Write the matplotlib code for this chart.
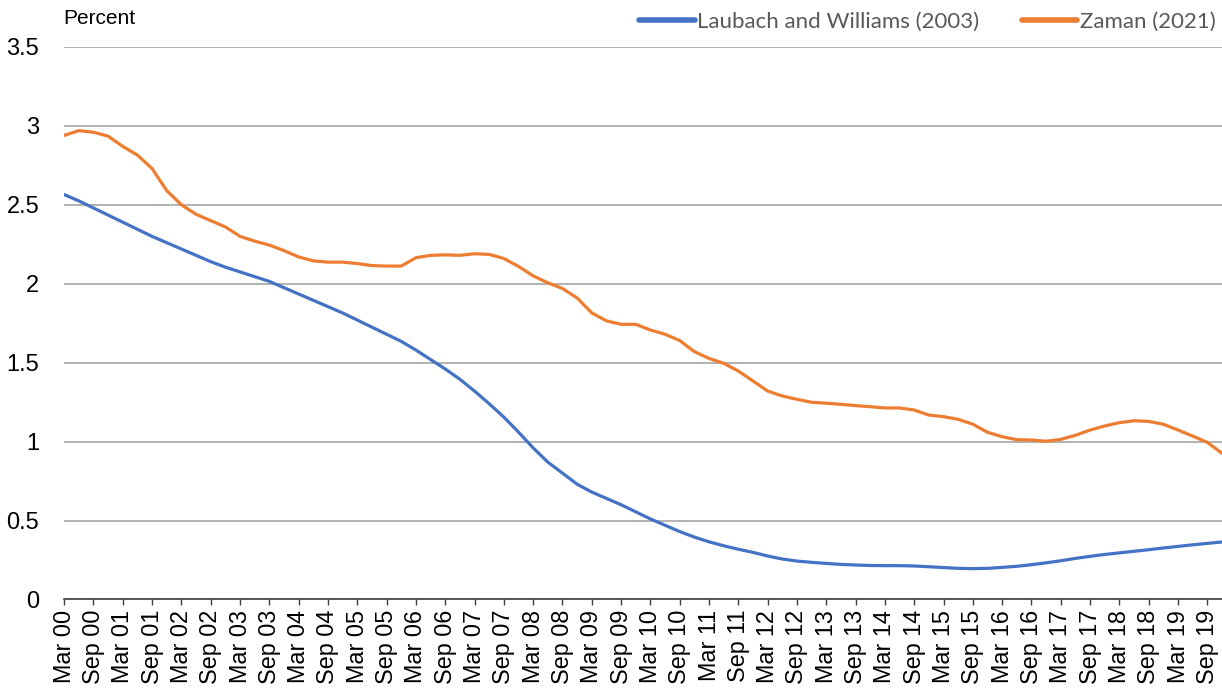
import numpy as np
import matplotlib.pyplot as plt

# quarterly data, Mar 2000 - Dec 2019
months = ['Mar', 'Jun', 'Sep', 'Dec']
years = list(range(2000, 2020))
quarters = [m + ' ' + str(y)[2:] for y in years for m in months]

laubach_williams = [
    2.565, 2.525, 2.48, 2.435, 2.39, 2.345, 2.30, 2.26, 2.22, 2.18,
    2.14, 2.105, 2.075, 2.045, 2.015, 1.975, 1.935, 1.895, 1.855, 1.815,
    1.77, 1.725, 1.68, 1.635, 1.58, 1.52, 1.46, 1.395, 1.32, 1.24,
    1.155, 1.06, 0.96, 0.87, 0.80, 0.73, 0.68, 0.64, 0.60, 0.555,
    0.51, 0.47, 0.43, 0.395, 0.365, 0.34, 0.318, 0.298, 0.275, 0.256,
    0.243, 0.235, 0.228, 0.222, 0.218, 0.215, 0.214, 0.214, 0.212, 0.207,
    0.202, 0.197, 0.195, 0.197, 0.203, 0.21, 0.22, 0.232, 0.245, 0.26,
    0.273, 0.285, 0.295, 0.305, 0.315, 0.326, 0.336, 0.346, 0.355, 0.364,
]
zaman = [
    2.94, 2.97, 2.96, 2.935, 2.87, 2.815, 2.73, 2.59, 2.50, 2.44,
    2.40, 2.36, 2.30, 2.27, 2.245, 2.21, 2.17, 2.145, 2.137, 2.137,
    2.128, 2.115, 2.112, 2.112, 2.165, 2.18, 2.183, 2.18, 2.19, 2.186,
    2.16, 2.11, 2.05, 2.006, 1.97, 1.91, 1.815, 1.765, 1.743, 1.743,
    1.707, 1.68, 1.64, 1.57, 1.527, 1.496, 1.447, 1.384, 1.32, 1.289,
    1.268, 1.249, 1.243, 1.236, 1.228, 1.221, 1.213, 1.213, 1.20, 1.168,
    1.158, 1.141, 1.11, 1.059, 1.031, 1.012, 1.01, 1.002, 1.014, 1.04,
    1.073, 1.099, 1.12, 1.132, 1.128, 1.11, 1.073, 1.035, 0.995, 0.926,
]
yticks = [0, 0.5, 1, 1.5, 2, 2.5, 3, 3.5]
ytick_labels = ['0', '0.5', '1', '1.5', '2', '2.5', '3', '3.5']

plt.rcParams['font.family'] = ['Liberation Sans', 'DejaVu Sans']

fig = plt.figure(figsize=(12.22, 6.89), dpi=100)
ax = fig.add_axes([0.0525, 0.13, 0.9475, 0.8018])

x = np.arange(len(quarters))
ax.plot(x, laubach_williams, color='#4472C4', lw=2.3, solid_capstyle='round',
        solid_joinstyle='round', label='Laubach and Williams (2003)')
ax.plot(x, zaman, color='#ED7D31', lw=2.3, solid_capstyle='round',
        solid_joinstyle='round', label='Zaman (2021)')

ax.set_xlim(0, len(quarters) - 1)
ax.set_ylim(0, 3.5)
ax.set_yticks(yticks)
ax.set_yticklabels(ytick_labels, fontsize=17)
ax.tick_params(axis='y', length=0, pad=18)
ax.set_xticks(x[::2])
ax.set_xticklabels(quarters[::2], rotation=90, fontsize=16.8)
ax.tick_params(axis='x', length=4.5, width=1, color='#404040', pad=3)

ax.grid(axis='y', color='#a6a6a6', lw=1.2)
ax.set_axisbelow(True)
for s in ['left', 'right', 'top']:
    ax.spines[s].set_visible(False)
ax.spines['bottom'].set_color('#404040')
ax.spines['bottom'].set_linewidth(1.2)
ax.spines['bottom'].set_zorder(1)

fig.text(63 / 1222, 1 - 18 / 689, 'Percent', fontsize=15, va='center', ha='left')

leg = ax.legend(loc='upper right', bbox_to_anchor=(1.002, 0.996), bbox_transform=fig.transFigure,
                ncol=2, frameon=False, handlelength=2.5, handletextpad=0.12,
                columnspacing=1.9, borderaxespad=0.0, prop={'family': ['Lato', 'DejaVu Sans'], 'size': 16})
for t in leg.get_texts():
    t.set_color('#595959')
for h in leg.get_lines():
    h.set_linewidth(4)

fig.savefig('out.png', dpi=100)
